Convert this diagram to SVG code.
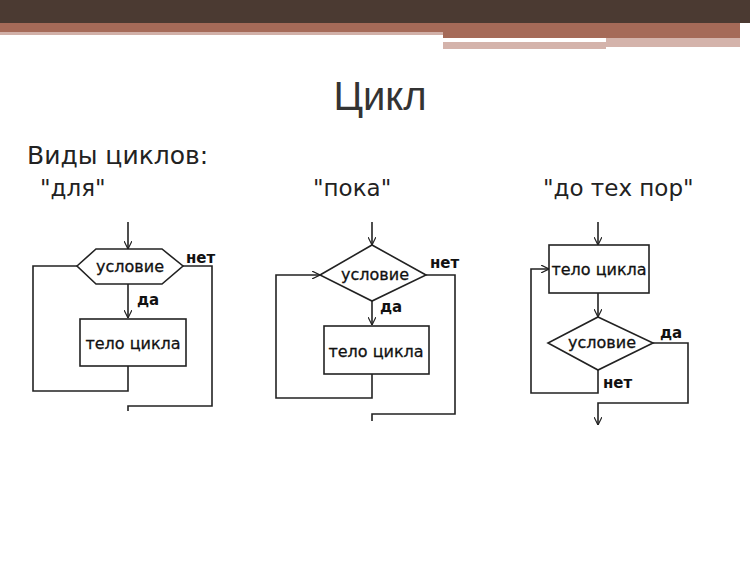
<svg xmlns="http://www.w3.org/2000/svg" width="750" height="561" viewBox="0 0 750 561">
<style>
.s{fill:none;stroke:#222;stroke-width:1.6}
.n{fill:#fff;stroke:#222;stroke-width:1.6}
.t{font-family:"DejaVu Sans",sans-serif;font-size:16px;font-weight:500;fill:#111;stroke:#111;stroke-width:0.3}
.l{font-family:"DejaVu Sans",sans-serif;font-size:15px;font-weight:bold;fill:#111}
.h{font-family:"Liberation Sans",sans-serif;fill:#333}
.q{font-family:"DejaVu Sans",sans-serif;fill:#222}
</style>
<defs><marker id="a" viewBox="0 0 10 10" refX="10" refY="5" markerWidth="8" markerHeight="8" orient="auto" markerUnits="userSpaceOnUse"><path d="M0,0L10,5L0,10" fill="none" stroke="#222" stroke-width="1.5"/></marker></defs>
<rect x="0" y="0" width="750" height="23" fill="#4b3a32"/>
<rect x="0" y="23" width="740" height="9" fill="#a56a58"/>
<rect x="0" y="32" width="443" height="3" fill="#d1b0a8"/>
<rect x="443" y="32" width="297" height="6" fill="#a56a58"/>
<rect x="443" y="42" width="163" height="7" fill="#d4b3ab"/>
<rect x="606" y="38" width="134" height="9" fill="#d4b3ab"/>
<text class="h" x="380" y="110" font-size="40" text-anchor="middle">Цикл</text>
<text class="q" x="27" y="164" font-size="25">Виды циклов:</text>
<text class="q" x="40" y="196" font-size="23">"для"</text>
<text class="q" x="313" y="196" font-size="23">"пока"</text>
<text class="q" x="543" y="196" font-size="23">"до тех пор"</text>
<g id="connectors">
<path class="s" d="M128,222V249" marker-end="url(#a)"/>
<path class="s" d="M128,284V318" marker-end="url(#a)"/>
<path class="s" d="M77,266H33V391H128V366"/>
<path class="s" d="M183,266H212V406H128V411"/>
<path class="s" d="M372,222V245" marker-end="url(#a)"/>
<path class="s" d="M372,301V325" marker-end="url(#a)"/>
<path class="s" d="M372,374V398H276V275H320" marker-end="url(#a)"/>
<path class="s" d="M426,275H455V414H372V421"/>
<path class="s" d="M598,222V245" marker-end="url(#a)"/>
<path class="s" d="M598,293V317" marker-end="url(#a)"/>
<path class="s" d="M598,370V393H531V269H549" marker-end="url(#a)"/>
<path class="s" d="M653,343H688V403H598V425" marker-end="url(#a)"/>
</g>
<g id="n1">
<polygon class="n" points="77,266 96,249 162,249 183,266 162,284 96,284"/>
<text class="t" x="130" y="272" text-anchor="middle">условие</text>
</g>
<g id="n2"><rect class="n" x="80" y="319" width="106" height="47"/><text class="t" x="133" y="349" text-anchor="middle">тело цикла</text></g>
<text class="l" x="137" y="305">да</text>
<text class="l" x="186" y="263">нет</text>
<g id="n3">
<polygon class="n" points="372,245 426,275 372,301 320,275"/>
<text class="t" x="375" y="280" text-anchor="middle">условие</text>
</g>
<g id="n4"><rect class="n" x="324" y="326" width="105" height="48"/><text class="t" x="376" y="357" text-anchor="middle">тело цикла</text></g>
<text class="l" x="380" y="312">да</text>
<text class="l" x="430" y="268">нет</text>
<g id="n5"><rect class="n" x="549" y="245" width="100" height="48"/><text class="t" x="599" y="275" text-anchor="middle">тело цикла</text></g>
<g id="n6">
<polygon class="n" points="598,317 653,343 598,370 548,343"/>
<text class="t" x="602" y="348" text-anchor="middle">условие</text>
</g>
<text class="l" x="660" y="338">да</text>
<text class="l" x="603" y="388">нет</text>
</svg>
